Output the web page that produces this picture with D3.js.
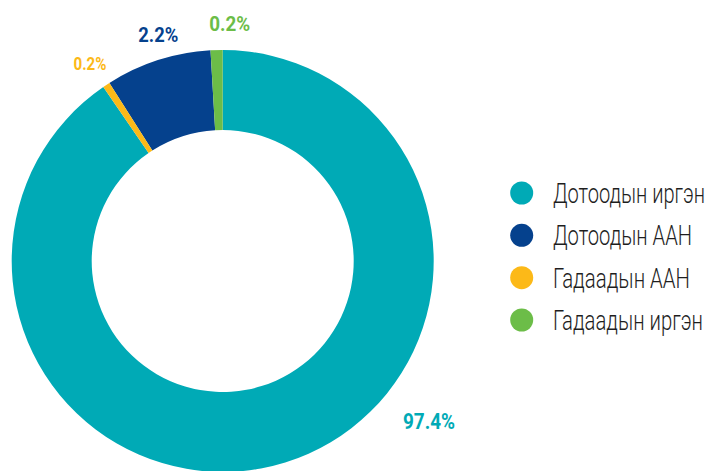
<html>
<head>
    <meta charset="utf-8">
    <script src="https://d3js.org/d3.v7.min.js"></script>
    <style>
        body { margin: 0; background: white; }
        text { font-family: Roboto, "DejaVu Sans Condensed", sans-serif; }
    </style>
</head>
<body>
<script>
    // legend order
    var categories = ["Дотоодын иргэн", "Дотоодын ААН", "Гадаадын ААН", "Гадаадын иргэн"];
    var labels = ["97.4%", "2.2%", "0.2%", "0.2%"];
    // arc shares as drawn in the picture (share of the circle, %)
    var arcShares = [90.4, 8.1, 0.55, 0.92];
    var colors = ["#00aab6", "#05418d", "#fcb918", "#6cbd48"];
    // clockwise from 12 o'clock: teal, yellow, navy, green
    var drawOrder = [0, 2, 1, 3];

    var width = 708, height = 471;
    var cx = 222.7, cy = 261, outerR = 211, innerR = 131;

    var svg = d3.select("body").append("svg")
        .attr("width", width)
        .attr("height", height);

    var data = categories.map(function(c, i) {
        return { name: c, value: arcShares[i], label: labels[i], color: colors[i], idx: i };
    });

    var pie = d3.pie()
        .value(function(d) { return d.value; })
        .sort(function(a, b) { return drawOrder.indexOf(a.idx) - drawOrder.indexOf(b.idx); });

    var arc = d3.arc().innerRadius(innerR).outerRadius(outerR);

    var g = svg.append("g").attr("transform", "translate(" + cx + "," + cy + ")");

    g.selectAll("path")
        .data(pie(data))
        .enter()
        .append("path")
        .attr("fill", function(d) { return d.data.color; })
        .attr("d", arc);

    // value labels, placed outside the ring
    var labelPos = [
        { x: 429, y: 428.5, size: 22, w: 52 },  // 97.4%
        { x: 158.3, y: 42, size: 21, w: 40 },   // 2.2%
        { x: 90, y: 70, size: 18, w: 33 },      // 0.2% yellow
        { x: 229.7, y: 31, size: 21, w: 41 }    // 0.2% green
    ];

    svg.selectAll("text.val")
        .data(data)
        .enter()
        .append("text")
        .attr("class", "val")
        .attr("x", function(d) { return labelPos[d.idx].x; })
        .attr("y", function(d) { return labelPos[d.idx].y; })
        .attr("text-anchor", "middle")
        .attr("font-weight", "bold")
        .attr("font-size", function(d) { return labelPos[d.idx].size; })
        .attr("textLength", function(d) { return labelPos[d.idx].w; })
        .attr("lengthAdjust", "spacingAndGlyphs")
        .attr("fill", function(d) { return d.color; })
        .text(function(d) { return d.label; });

    // legend
    var legendY = d3.scalePoint()
        .domain(categories)
        .range([193, 320]);
    var legendW = [152, 139, 137, 150];

    var legend = svg.selectAll("g.leg")
        .data(data)
        .enter()
        .append("g")
        .attr("class", "leg")
        .attr("transform", function(d) { return "translate(0," + legendY(d.name) + ")"; });

    legend.append("circle")
        .attr("cx", 521.7)
        .attr("cy", 0)
        .attr("r", 11.5)
        .attr("fill", function(d) { return d.color; });

    legend.append("text")
        .attr("x", 553)
        .attr("y", 10)
        .attr("font-size", 27)
        .attr("font-weight", 300)
        .attr("textLength", function(d) { return legendW[d.idx]; })
        .attr("lengthAdjust", "spacingAndGlyphs")
        .attr("fill", "#1e1e1e")
        .text(function(d) { return d.name; });
</script>
</body>
</html>
